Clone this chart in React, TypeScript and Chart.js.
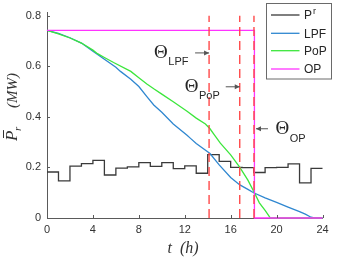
import React, { useEffect, useRef } from 'react';
import { Chart, registerables } from 'chart.js';

Chart.register(...registerables);

// ---- data ----
const prHours = [0, 1, 2, 3, 4, 5, 6, 7, 8, 9, 10, 11, 12, 13, 14, 15, 16, 17, 18, 19, 20, 21, 22, 23, 24];
const prValues = [0.182, 0.147, 0.205, 0.215, 0.228, 0.170, 0.197, 0.202, 0.219, 0.204, 0.219, 0.195, 0.206, 0.177, 0.251, 0.224, 0.200, 0.199, 0.180, 0.199, 0.200, 0.214, 0.139, 0.196, 0.196];

const lpfT = [0, 1, 2, 3, 4, 5, 6, 6.4, 7.3, 8, 8.7, 9.3, 10, 11, 12.2, 12.5, 13, 14.2, 15, 16, 16.8, 17.5, 18, 19, 20, 21, 22, 22.5, 23, 23.3, 24];
const lpfV = [0.742, 0.73, 0.713, 0.692, 0.66, 0.628, 0.596, 0.58, 0.549, 0.52, 0.48, 0.447, 0.418, 0.372, 0.327, 0.315, 0.295, 0.255, 0.21, 0.16, 0.131, 0.113, 0.1, 0.08, 0.062, 0.043, 0.025, 0.015, 0.003, 0, 0];

const popT = [0, 1, 2, 3, 4, 4.4, 5, 5.8, 7.3, 8, 8.7, 9.3, 10, 11, 12.2, 13, 13.8, 14.2, 14.5, 15.1, 16, 16.8, 17.5, 18.07, 18.5, 19, 19.46, 24];
const popV = [0.742, 0.728, 0.712, 0.692, 0.664, 0.65, 0.635, 0.615, 0.58, 0.555, 0.53, 0.511, 0.49, 0.46, 0.422, 0.395, 0.372, 0.353, 0.334, 0.296, 0.25, 0.2, 0.15, 0.1, 0.06, 0.03, 0, 0];

const opT = [0, 18.07, 18.07, 24];
const opV = [0.742, 0.742, 0, 0];

const thetaT = [14.12, 16.79, 18.03];
const thetaNames = ['LPF', 'PoP', 'OP'];
const thetaArrowV = [0.653, 0.519, 0.353];

const xTicks = [0, 4, 8, 12, 16, 20, 24];
const yTicks = [0, 0.2, 0.4, 0.6, 0.8];

const legendNames = ['P', 'LPF', 'PoP', 'OP'];

const COLORS = {
  pr: '#3a3a3a',
  lpf: '#2f87d0',
  pop: '#3ce63c',
  op: '#ff33ff',
  theta: '#ff4a4a',
  axis: '#5a5a5a',
  text: '#333333',
};

const toPts = (xs: number[], ys: number[]) => xs.map((x, i) => ({ x, y: ys[i] }));

const overlayPlugin = {
  id: 'overlay',
  afterDraw(chart: any) {
    const ctx: CanvasRenderingContext2D = chart.ctx;
    const xs = chart.scales.x;
    const ys = chart.scales.y;
    const area = chart.chartArea;
    ctx.save();

    // inward ticks
    ctx.strokeStyle = COLORS.axis;
    ctx.lineWidth = 1;
    ctx.beginPath();
    xTicks.forEach((t) => {
      const px = Math.round(xs.getPixelForValue(t)) + 0.5;
      ctx.moveTo(px, area.bottom);
      ctx.lineTo(px, area.bottom - 3);
    });
    yTicks.forEach((v) => {
      const py = Math.round(ys.getPixelForValue(v)) + 0.5;
      ctx.moveTo(area.left, py);
      ctx.lineTo(area.left + 3, py);
    });
    ctx.stroke();

    // annotations
    const arrow = (x1: number, x2: number, y: number) => {
      ctx.strokeStyle = '#555555';
      ctx.fillStyle = '#555555';
      ctx.lineWidth = 1;
      ctx.beginPath();
      ctx.moveTo(x1, y);
      ctx.lineTo(x2, y);
      ctx.stroke();
      const dir = x2 > x1 ? 1 : -1;
      ctx.beginPath();
      ctx.moveTo(x2, y);
      ctx.lineTo(x2 - dir * 5, y - 2.5);
      ctx.lineTo(x2 - dir * 5, y + 2.5);
      ctx.closePath();
      ctx.fill();
    };
    const theta = (left: number, base: number, sub: string) => {
      ctx.fillStyle = '#262626';
      ctx.textAlign = 'left';
      ctx.textBaseline = 'alphabetic';
      ctx.font = '19px "Liberation Serif"';
      ctx.fillText('\u0398', left, base);
      const w = ctx.measureText('\u0398').width;
      ctx.font = '11px "Liberation Sans"';
      ctx.fillText(sub, left + w + 0.5, base + 7.5);
    };
    thetaT.forEach((t, i) => {
      const lx = xs.getPixelForValue(t);
      const ay = ys.getPixelForValue(thetaArrowV[i]);
      if (i < 2) {
        arrow(lx - 14, lx, ay);
        theta(lx - 55, ay + 5, thetaNames[i]);
      } else {
        arrow(lx + 14, lx + 2, ay);
        theta(lx + 21.5, ay + 5.5, thetaNames[i]);
      }
    });

    // legend
    const lx = 266.5, ly = 3.5, lw = 65, lh = 75.5;
    ctx.fillStyle = '#ffffff';
    ctx.fillRect(lx, ly, lw, lh);
    ctx.strokeStyle = '#6a6a6a';
    ctx.lineWidth = 1;
    ctx.strokeRect(lx, ly, lw, lh);
    const rowY = [15, 33.3, 50.7, 69];
    const rowColors = [COLORS.pr, COLORS.lpf, COLORS.pop, COLORS.op];
    rowY.forEach((y, i) => {
      ctx.strokeStyle = rowColors[i];
      ctx.lineWidth = 1.3;
      ctx.beginPath();
      ctx.moveTo(271, y);
      ctx.lineTo(299.5, y);
      ctx.stroke();
      ctx.fillStyle = '#262626';
      ctx.font = '12px "Liberation Sans"';
      ctx.textAlign = 'left';
      ctx.textBaseline = 'middle';
      ctx.fillText(legendNames[i], 304, y + 1);
      if (i === 0) {
        const w = ctx.measureText(legendNames[i]).width;
        ctx.font = '9px "Liberation Sans"';
        ctx.fillText('r', 304 + w + 1, y - 3);
      }
    });

    // x label
    ctx.fillStyle = '#333333';
    ctx.font = 'italic 16px "Liberation Serif"';
    ctx.textAlign = 'center';
    ctx.textBaseline = 'alphabetic';
    ctx.fillText('t  (h)', 183, 253);

    // y label (rotated)
    ctx.save();
    ctx.translate(17, 0);
    ctx.rotate(-Math.PI / 2);
    ctx.textAlign = 'left';
    ctx.textBaseline = 'alphabetic';
    ctx.font = 'italic 17px "Liberation Serif"';
    const pStart = -141;
    ctx.fillText('P', pStart, 0);
    const pw = ctx.measureText('P').width;
    ctx.strokeStyle = '#333333';
    ctx.lineWidth = 1;
    ctx.beginPath();
    ctx.moveTo(pStart + 3, -13.5);
    ctx.lineTo(pStart + pw + 0.5, -13.5);
    ctx.stroke();
    ctx.font = 'italic 11px "Liberation Serif"';
    ctx.fillText('r', pStart + pw - 0.5, 3.5);
    ctx.font = 'italic 15px "Liberation Serif"';
    ctx.textAlign = 'center';
    ctx.fillText('(MW)', -90.5, 0);
    ctx.restore();

    ctx.restore();
  },
};

export default function App() {
  const canvasRef = useRef<HTMLCanvasElement | null>(null);

  useEffect(() => {
    const canvas = canvasRef.current;
    if (!canvas) return;
    const lineBase = { fill: false, pointRadius: 0, clip: false as any, tension: 0 };
    const thetaSets = thetaT.map((t, i) => ({
      ...lineBase,
      label: 'theta' + i,
      data: [{ x: t, y: 0 }, { x: t, y: 0.8 }],
      borderColor: COLORS.theta,
      borderWidth: 1.4,
      borderDash: [9, 5],
      order: 3 - i,
    }));
    const chart = new Chart(canvas, {
      type: 'line',
      data: {
        datasets: [
          {
            ...lineBase,
            label: 'Pr',
            data: toPts(prHours, prValues),
            borderColor: COLORS.pr,
            borderWidth: 1.3,
            stepped: 'before',
            order: 10,
          } as any,
          {
            ...lineBase,
            label: 'LPF',
            data: toPts(lpfT, lpfV),
            borderColor: COLORS.lpf,
            borderWidth: 1.3,
            order: 9,
          },
          {
            ...lineBase,
            label: 'PoP',
            data: toPts(popT, popV),
            borderColor: COLORS.pop,
            borderWidth: 1.3,
            order: 8,
          },
          {
            ...lineBase,
            label: 'OP',
            data: toPts(opT, opV),
            borderColor: COLORS.op,
            borderWidth: 1.3,
            order: 7,
          },
          ...thetaSets,
        ],
      },
      options: {
        animation: false,
        responsive: false,
        devicePixelRatio: 1,
        layout: { padding: { left: 0, right: 15.5, top: 4, bottom: 0 } },
        plugins: { legend: { display: false }, tooltip: { enabled: false } },
        scales: {
          x: {
            type: 'linear',
            min: 0,
            max: 24,
            afterBuildTicks: (s: any) => {
              s.ticks = xTicks.map((v) => ({ value: v }));
            },
            afterFit: (s: any) => {
              s.height = 42;
            },
            grid: { display: false, drawTicks: false },
            border: { display: true, color: COLORS.axis, width: 1 },
            ticks: {
              padding: 5,
              color: COLORS.text,
              font: { family: '"Liberation Sans"', size: 11 },
              maxRotation: 0,
              callback: (v: any) => String(v),
            },
          },
          y: {
            type: 'linear',
            min: 0,
            max: 0.8125,
            afterBuildTicks: (s: any) => {
              s.ticks = yTicks.map((v) => ({ value: v }));
            },
            afterFit: (s: any) => {
              s.width = 47;
            },
            grid: { display: false, drawTicks: false },
            border: { display: true, color: COLORS.axis, width: 1 },
            ticks: {
              padding: 6,
              color: COLORS.text,
              font: { family: '"Liberation Sans"', size: 11 },
              callback: (v: any) => (Number(v) === 0 ? '0' : Number(v).toFixed(1)),
            },
          },
        },
      },
      plugins: [overlayPlugin],
    });
    return () => chart.destroy();
  }, []);

  return (
    <div style={{ position: 'absolute', left: 0, top: 0, width: 338, height: 260, background: '#fff' }}>
      <canvas ref={canvasRef} width={338} height={260} style={{ display: 'block', width: 338, height: 260 }} />
    </div>
  );
}
